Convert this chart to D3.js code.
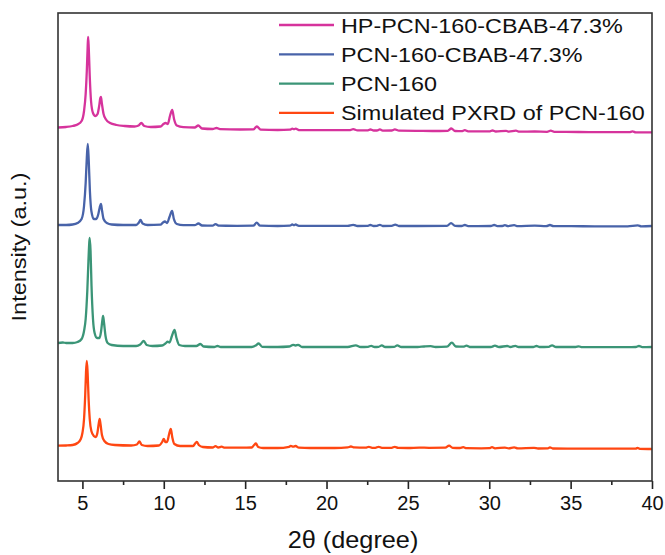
<!DOCTYPE html>
<html>
<head>
<meta charset="utf-8">
<script src="https://cdn.jsdelivr.net/npm/d3@7/dist/d3.min.js"></script>
<style>
  html, body { margin: 0; padding: 0; background: #fff; }
  svg { display: block; font-family: "Liberation Sans", Arial, sans-serif; }
</style>
</head>
<body>
<svg id="chart" width="665" height="555"></svg>
<script>
// PXRD patterns, 2θ (degree) vs intensity (a.u.), each trace stacked by an offset
const seriesNames = [
  "HP-PCN-160-CBAB-47.3%",
  "PCN-160-CBAB-47.3%",
  "PCN-160",
  "Simulated PXRD of PCN-160"
];
const seriesColors = ["#d6339c", "#4863a9", "#3b9577", "#ff4712"];
const seriesOffsets = [315, 220, 100, 0];

const hpCbab = [
  [3.5,38.5],[4.0,39],[4.4,40],[4.7,41.5],[4.95,45],[5.1,55],[5.2,72],[5.27,95],[5.32,118],[5.35,129],
  [5.39,118],[5.45,90],[5.53,65],[5.65,53],[5.8,50],[5.93,52],[6.03,60],[6.1,68],[6.14,69],[6.2,62],
  [6.3,52],[6.45,46.5],[6.7,43],[7.1,41],[7.6,40],[8.2,39.5],[8.45,40.5],[8.62,43],[8.8,40],[9.2,39],
  [9.8,39.5],[9.98,42],[10.11,43],[10.25,42],[10.38,50],[10.52,56],[10.63,47],[10.8,40.5],[11.2,38.8],
  [11.9,38.5],[12.12,40.5],[12.35,37.5],[13.0,37],[13.24,38],[13.45,36.8],[14.7,36.5],[15.5,36.6],
  [15.72,39.5],[15.95,36.4],[17.0,36],[17.75,36.4],[17.9,37.3],[18.0,36.8],[18.1,37.3],[18.35,35.8],
  [21.4,35.8],[21.64,36.8],[21.9,35.6],[22.5,35.6],[22.7,36.5],[22.9,35.5],[23.1,35.5],[23.28,36.6],
  [23.45,35.4],[24.0,35.5],[24.2,36.6],[24.45,35.3],[25.5,35.2],[26.5,35],[27.45,35.2],[27.67,37.5],
  [27.9,35],[28.3,34.8],[28.5,35.8],[28.7,34.7],[30.0,34.6],[30.2,35.5],[30.4,34.5],[31.04,35.2],
  [31.2,34.4],[31.64,35.3],[31.85,34.3],[32.8,34.5],[33.55,34.2],[33.78,35.3],[34.0,34.1],[35.5,34],
  [37,33.8],[38.6,33.8],[38.8,34.6],[39.0,33.7],[40,33.6]
];

const cbab = [
  [3.5,36],[4.0,36],[4.4,36.5],[4.7,38],[4.95,42],[5.1,55],[5.2,78],[5.27,103],[5.33,117],[5.39,100],
  [5.46,70],[5.55,50],[5.7,42],[5.85,42],[5.98,47],[6.07,54],[6.14,57],[6.21,50],[6.3,42],[6.5,38],
  [6.8,36.5],[7.5,36],[8.3,36],[8.45,38],[8.57,41],[8.7,37.5],[9.0,36],[9.8,36.3],[9.95,38.5],
  [10.07,39.5],[10.2,38],[10.35,44],[10.51,50],[10.62,42],[10.8,37],[11.2,35.8],[11.9,35.8],
  [12.13,37.5],[12.35,35.5],[13.0,35.3],[13.18,36.8],[13.4,35.3],[14.5,35.2],[15.5,35.3],[15.71,38.3],
  [15.92,35.3],[17.0,35],[17.75,35.3],[17.9,36.5],[18.0,35.8],[18.1,36.5],[18.3,35.2],[21.3,35.2],
  [21.64,36.2],[21.9,35],[22.5,35.1],[22.69,36],[22.9,35],[23.1,35.1],[23.28,36.2],[23.45,35],
  [24.0,35.1],[24.22,36.3],[24.45,35],[25.5,35],[27.4,35.2],[27.65,37.8],[27.9,35.2],[28.3,35],
  [28.5,36],[28.7,34.9],[30.1,35],[30.3,36],[30.5,34.9],[30.8,35],[30.96,35.8],[31.15,34.9],
  [31.53,35.8],[31.75,34.8],[32.8,35.3],[33.5,34.8],[33.73,36],[33.95,34.8],[35,34.8],[36.5,34.7],
  [38.5,34.7],[39.13,35.6],[39.35,34.6],[40,35]
];

const pcn160 = [
  [3.5,38],[3.8,38.5],[4.0,38],[4.4,38],[4.7,39],[4.95,42],[5.1,50],[5.2,62],[5.3,90],[5.37,120],
  [5.42,138],[5.45,143],[5.5,130],[5.56,95],[5.65,62],[5.75,48],[5.9,43],[6.05,43],[6.15,50],[6.22,60],
  [6.27,65],[6.33,58],[6.42,45],[6.55,38],[6.8,36],[7.5,35],[8.3,35],[8.55,36.5],[8.77,40],[8.95,36],
  [9.3,35],[9.9,35.5],[10.1,37.5],[10.24,39.3],[10.35,38.5],[10.5,45],[10.66,51],[10.78,43],[10.95,36],
  [11.3,35],[12.0,35],[12.25,37],[12.45,34.5],[13.1,34],[13.3,35],[13.5,34],[15.4,34],[15.65,35.5],
  [15.83,37.5],[16.05,34.2],[17.0,34],[17.7,34.5],[17.95,36.2],[18.1,35.5],[18.25,36.2],[18.5,34],
  [21.3,34],[21.8,35.6],[22.1,34],[22.55,34.2],[22.75,35.2],[22.95,34],[23.2,34.2],[23.4,35.6],
  [23.6,34],[24.15,34.2],[24.35,35.6],[24.6,34],[25.6,34],[26.0,34.5],[26.4,34.8],[26.7,34],
  [27.4,34.3],[27.7,38.3],[27.95,34.5],[28.4,34.3],[28.6,35.3],[28.8,34],[30.1,34],[30.35,35.3],
  [30.6,34],[31.1,35],[31.3,34],[31.6,35.2],[31.8,34],[32.7,34],[32.9,35],[33.1,34],[33.65,34.2],
  [33.86,35.6],[34.1,34],[35.3,34],[35.5,34.7],[35.7,33.8],[37.0,33.8],[38.5,33.8],[39.0,34],
  [39.2,35],[39.4,33.8],[40,34]
];

const simulated = [
  [3.5,35.3],[4.0,35.5],[4.4,36],[4.7,38],[4.9,42],[5.0,48],[5.1,62],[5.17,85],[5.22,108],[5.27,120],
  [5.32,108],[5.38,82],[5.45,62],[5.55,50],[5.7,45],[5.82,44],[5.92,48],[6.0,57],[6.06,62],[6.12,56],
  [6.2,46],[6.35,40],[6.6,37],[7.0,36],[8.0,35.5],[8.35,36.5],[8.5,39.5],[8.65,36],[9.0,35],[9.7,35.5],
  [9.9,39],[10.0,42],[10.1,39],[10.2,39],[10.33,47],[10.43,52],[10.52,44],[10.65,37],[11.0,35],
  [11.8,35],[11.95,38],[12.03,39],[12.15,36],[12.4,34],[13.0,33.5],[13.18,34.8],[13.35,33.5],
  [13.55,34.3],[13.75,33.3],[14.8,33.3],[15.4,33.5],[15.55,36],[15.66,37.5],[15.8,34],[16.1,33],
  [17.0,33],[17.7,34.2],[17.8,35.2],[17.95,34.3],[18.1,35],[18.3,33.3],[19.0,33],[20.5,33],[21.3,33.6],
  [21.5,34.5],[21.7,33.6],[22.4,33.3],[22.6,34.2],[22.8,33.2],[23.0,33.2],[23.2,34.2],[23.4,33.2],
  [24.0,33.2],[24.2,34.2],[24.4,33.1],[25.0,33],[25.7,33.4],[26.3,33.2],[27.3,33.3],[27.53,35.3],
  [27.75,33.2],[28.2,33],[28.4,33.8],[28.6,32.8],[29.5,32.7],[30.0,32.8],[30.17,33.8],[30.35,32.7],
  [30.96,33.4],[31.2,32.6],[31.53,33.6],[31.75,32.6],[32.75,33.2],[33.0,32.5],[33.6,32.6],[33.73,33.7],
  [33.9,32.5],[35.0,32.4],[36.5,32.3],[38.0,32.3],[39.0,32.4],[39.1,33.2],[39.25,32.2],[40,32]
];

const patterns = [hpCbab, cbab, pcn160, simulated];
const xMajorTicks = [5, 10, 15, 20, 25, 30, 35, 40];
const xMinorTicks = [7.5, 12.5, 17.5, 22.5, 27.5, 32.5, 37.5];
const xDomain = [3.5, 40];
const yDomain = [0, 468];

const svg = d3.select("#chart");
const margin = { left: 58, right: 13, top: 13, bottom: 74 };
const W = +svg.attr("width"), H = +svg.attr("height");
const x = d3.scaleLinear().domain(xDomain).range([margin.left, W - margin.right]);
const y = d3.scaleLinear().domain(yDomain).range([H - margin.bottom, margin.top]);

svg.append("defs").append("clipPath").attr("id", "plotClip")
  .append("rect")
  .attr("x", x.range()[0]).attr("y", y.range()[1])
  .attr("width", x.range()[1] - x.range()[0])
  .attr("height", y.range()[0] - y.range()[1]);

// traces
const line = d3.line()
  .x(d => x(d[0]))
  .y(d => y(d[1]))
  .curve(d3.curveMonotoneX);

const traces = svg.append("g").attr("clip-path", "url(#plotClip)");
patterns.forEach((pts, i) => {
  traces.append("path")
    .datum(pts.map(p => [p[0], p[1] + seriesOffsets[i]]))
    .attr("fill", "none")
    .attr("stroke", seriesColors[i])
    .attr("stroke-width", 2.3)
    .attr("stroke-linejoin", "round")
    .attr("d", line);
});

// bottom axis: major ticks with labels, minor ticks without
const axisY = y.range()[0];
const xAxis = svg.append("g")
  .attr("transform", `translate(0,${axisY})`)
  .call(d3.axisBottom(x).tickValues(xMajorTicks).tickSize(8).tickSizeOuter(0).tickPadding(7).tickFormat(d3.format("d")));
xAxis.select(".domain").remove();
xAxis.selectAll(".tick line").attr("stroke", "#222").attr("stroke-width", 1.6);
xAxis.selectAll(".tick text").attr("fill", "#111").attr("font-size", 20).attr("font-family", "Liberation Sans, Arial, sans-serif");

const xMinor = svg.append("g")
  .attr("transform", `translate(0,${axisY})`)
  .call(d3.axisBottom(x).tickValues(xMinorTicks).tickSize(4).tickSizeOuter(0).tickFormat(""));
xMinor.select(".domain").remove();
xMinor.selectAll(".tick line").attr("stroke", "#222").attr("stroke-width", 1.6);

// frame
svg.append("rect")
  .attr("x", x.range()[0]).attr("y", y.range()[1])
  .attr("width", x.range()[1] - x.range()[0])
  .attr("height", y.range()[0] - y.range()[1])
  .attr("fill", "none")
  .attr("stroke", "#333")
  .attr("stroke-width", 1.6);

// axis titles
svg.append("text")
  .attr("transform", `translate(${(x.range()[0] + x.range()[1]) / 2 - 2},548) scale(1.1,1)`)
  .attr("text-anchor", "middle")
  .attr("font-size", 23)
  .attr("fill", "#111")
  .text("2θ (degree)");

svg.append("text")
  .attr("transform", `translate(26,${(y.range()[0] + y.range()[1]) / 2}) rotate(-90) scale(1.12,1)`)
  .attr("text-anchor", "middle")
  .attr("font-size", 21)
  .attr("fill", "#111")
  .text("Intensity (a.u.)");

// legend
const legend = svg.append("g");
seriesNames.forEach((name, i) => {
  const ly = 25 + i * 29.3;
  legend.append("line")
    .attr("x1", 279).attr("x2", 334)
    .attr("y1", ly).attr("y2", ly)
    .attr("stroke", seriesColors[i])
    .attr("stroke-width", 2.3);
  legend.append("text")
    .attr("transform", `translate(341,${ly + 7.5}) scale(1.14,1)`)
    .attr("font-size", 20.5)
    .attr("fill", "#111")
    .text(name);
});
</script>
</body>
</html>
